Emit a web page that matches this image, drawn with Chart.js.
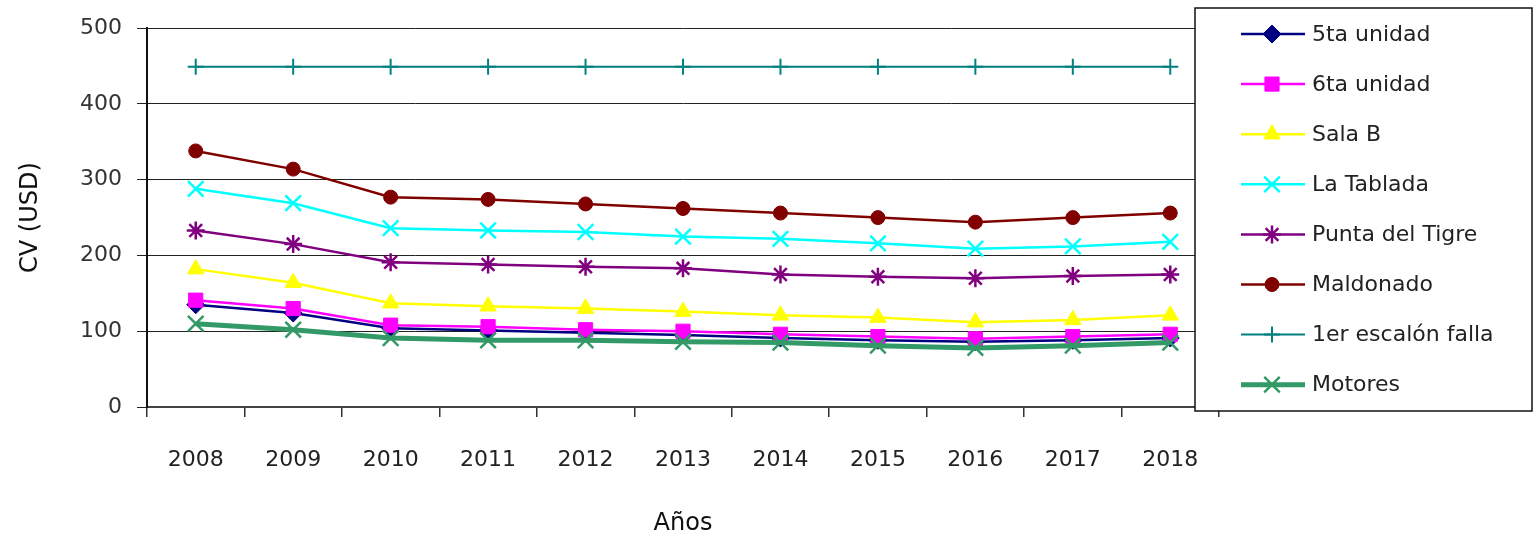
<!DOCTYPE html>
<html lang="es">
<head>
  <meta charset="UTF-8">
  <title>CV (USD) por año</title>
  <style>
    body { margin: 0; padding: 0; background: #fff; }
    #wrap { width: 1537px; height: 536px; }
  </style>
</head>
<body>
  <div id="wrap"><canvas id="cvChart" width="1537" height="536"></canvas></div>

  <script src="https://cdn.jsdelivr.net/npm/chart.js"></script>
  <script>
    // años y costos variables (USD) por unidad
    const years = ['2008', '2009', '2010', '2011', '2012', '2013', '2014', '2015', '2016', '2017', '2018'];
    const yTicks = [0, 100, 200, 300, 400, 500];

    const quintaUnidad  = [135, 124, 104, 101, 98, 95, 91, 88, 86, 88, 91];
    const sextaUnidad   = [141, 130, 108, 106, 102, 100, 96, 93, 90, 93, 96];
    const salaB         = [182, 164, 137, 133, 130, 126, 121, 118, 112, 115, 121];
    const laTablada     = [288, 269, 236, 233, 231, 225, 222, 216, 209, 212, 218];
    const puntaTigre    = [233, 215, 191, 188, 185, 183, 175, 172, 170, 173, 175];
    const maldonado     = [338, 314, 277, 274, 268, 262, 256, 250, 244, 250, 256];
    const escalonFalla  = [449, 449, 449, 449, 449, 449, 449, 449, 449, 449, 449];
    const motores       = [110, 102, 91, 88, 88, 86, 85, 81, 78, 81, 85];

    const FONT = "'DejaVu Sans', sans-serif";

    function serie(label, data, color, style, radius, width, pointBorder) {
      return {
        label, data,
        borderColor: color,
        backgroundColor: color,
        pointStyle: style,
        pointRadius: radius,
        pointHoverRadius: radius,
        pointBorderWidth: pointBorder,
        borderWidth: width,
        tension: 0
      };
    }

    const datasets = [
      serie('5ta unidad', quintaUnidad, '#000080', 'rectRot', 9, 2.5, 1),
      serie('6ta unidad', sextaUnidad, '#FF00FF', 'rect', 10, 2.5, 1),
      serie('Sala B', salaB, '#FFFF00', 'triangle', 9.5, 2.5, 1),
      serie('La Tablada', laTablada, '#00FFFF', 'crossRot', 11, 2.5, 2.5),
      serie('Punta del Tigre', puntaTigre, '#800080', 'star', 9, 2.5, 2.5),
      serie('Maldonado', maldonado, '#800000', 'circle', 7, 2.5, 1),
      serie('1er escalón falla', escalonFalla, '#008080', 'cross', 8, 2, 2),
      serie('Motores', motores, '#339966', 'crossRot', 11, 5, 2.5)
    ];
    // las series posteriores quedan encima
    datasets.forEach((d, i) => { d.order = datasets.length - i; });

    // leyenda en recuadro que se superpone al borde derecho del gráfico
    const boxLegend = {
      id: 'boxLegend',
      afterDraw(chart) {
        const ctx = chart.ctx;
        const x0 = 1195, y0 = 8, w = 337, h = 403;
        ctx.save();
        ctx.fillStyle = '#fff';
        ctx.fillRect(x0, y0, w, h);
        ctx.strokeStyle = '#111';
        ctx.lineWidth = 1.5;
        ctx.strokeRect(x0, y0, w, h);

        chart.data.datasets.forEach((ds, i) => {
          const y = 34 + i * 50.1;
          ctx.strokeStyle = ds.borderColor;
          ctx.lineWidth = ds.borderWidth;
          ctx.beginPath();
          ctx.moveTo(1241, y);
          ctx.lineTo(1305, y);
          ctx.stroke();

          ctx.fillStyle = ds.backgroundColor;
          ctx.lineWidth = ds.pointBorderWidth;
          Chart.helpers.drawPoint(ctx, {
            pointStyle: ds.pointStyle,
            radius: ds.pointRadius,
            borderWidth: ds.pointBorderWidth,
            rotation: 0
          }, 1272, y);

          ctx.fillStyle = '#222';
          ctx.font = '22px ' + FONT;
          ctx.textAlign = 'left';
          ctx.textBaseline = 'middle';
          ctx.fillText(ds.label, 1312, y + 1);
        });
        ctx.restore();
      }
    };

    new Chart(document.getElementById('cvChart'), {
      type: 'line',
      data: { labels: years, datasets },
      plugins: [boxLegend],
      options: {
        responsive: false,
        animation: false,
        layout: { padding: { top: 27, right: 318, left: 0, bottom: 0 } },
        plugins: {
          legend: { display: false },
          tooltip: { enabled: false }
        },
        scales: {
          x: {
            offset: true,
            afterFit: s => { s.height = 129; },
            grid: {
              offset: true,
              drawOnChartArea: false,
              tickLength: 10,
              color: '#333',
              lineWidth: 1.5
            },
            border: { color: '#444', width: 2 },
            ticks: {
              padding: 30,
              maxRotation: 0,
              color: '#222',
              font: { family: FONT, size: 22 }
            },
            title: {
              display: true,
              text: 'Años',
              color: '#111',
              padding: { top: 0, bottom: 0 },
              font: { family: FONT, size: 24, lineHeight: 1 }
            }
          },
          y: {
            min: 0,
            max: 500,
            afterFit: s => { s.width = 147; },
            afterBuildTicks: s => { s.ticks = yTicks.map(v => ({ value: v })); },
            grid: {
              color: '#222',
              lineWidth: 1,
              tickLength: 10
            },
            border: { color: '#111', width: 2 },
            ticks: {
              padding: 15,
              color: '#333',
              font: { family: FONT, size: 22 }
            },
            title: {
              display: true,
              text: 'CV (USD)',
              color: '#111',
              padding: { top: 19, bottom: 0 },
              font: { family: FONT, size: 24, lineHeight: 1 }
            }
          }
        }
      }
    });
  </script>
</body>
</html>
